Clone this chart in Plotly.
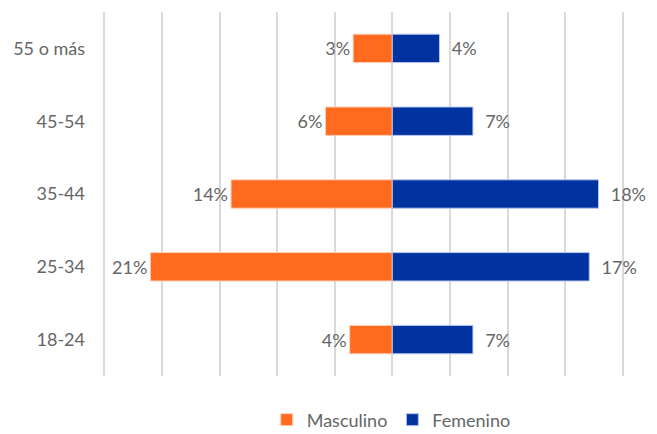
import plotly.graph_objects as go

grupos = ["18-24", "25-34", "35-44", "45-54", "55 o más"]
masculino = [3.7, 21.0, 14.0, 5.8, 3.4]
femenino = [7.0, 17.1, 17.9, 7.0, 4.1]

NARANJA = "#FF6A1F"
AZUL = "#0033A0"
GRIS = "#666666"

fig = go.Figure()
fig.add_trace(go.Bar(
    y=grupos, x=[-v for v in masculino], name="Masculino", orientation="h",
    marker=dict(color=NARANJA, line=dict(color="#FFD0B8", width=1)),
    customdata=masculino, texttemplate="%{customdata:.0f}%", textposition="outside",
    textfont=dict(color=GRIS, size=18), cliponaxis=False, constraintext="none",
))
fig.add_trace(go.Bar(
    y=grupos, x=femenino, name="Femenino", orientation="h",
    marker=dict(color=AZUL, line=dict(color="#B8C6EA", width=1)),
    customdata=femenino, texttemplate="  %{customdata:.0f}%", textposition="outside",
    textfont=dict(color=GRIS, size=18), cliponaxis=False, constraintext="none",
))

# la página añade 8px de margen, así que la figura es algo más pequeña
fig.update_layout(
    width=649,
    height=426,
    barmode="relative",
    bargap=0.61,
    plot_bgcolor="white",
    paper_bgcolor="white",
    margin=dict(l=94, r=32, t=4, b=58, autoexpand=False),
    font=dict(family="Lato", size=18, color=GRIS),
    xaxis=dict(
        range=[-25.2, 20.2], dtick=5, tick0=0, showticklabels=False,
        showgrid=True, gridcolor="#D9D9D9", gridwidth=1.5,
        zeroline=True, zerolinecolor="#D9D9D9", zerolinewidth=1.5,
        showline=False, fixedrange=True, automargin=False,
    ),
    yaxis=dict(
        showgrid=False, zeroline=False, showline=False, automargin=False,
        ticks="", ticklabelstandoff=16, tickfont=dict(size=18, color=GRIS),
    ),
    legend=dict(
        orientation="h",
        x=0.553, xanchor="center", y=-0.07, yanchor="top",
        font=dict(size=18, color=GRIS),
    ),
    showlegend=True,
)

fig.write_html("out.html")
